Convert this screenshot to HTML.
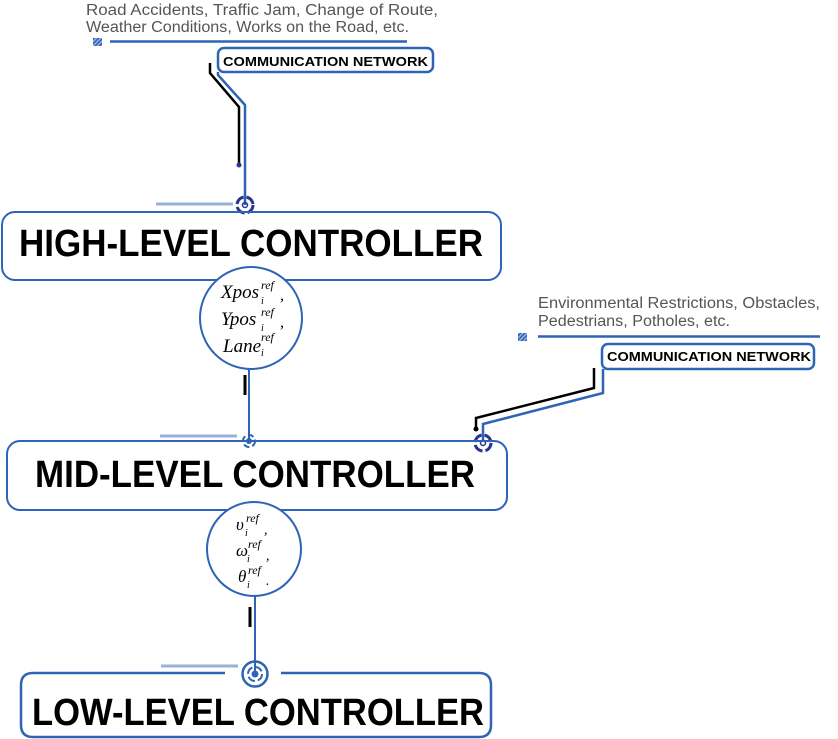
<!DOCTYPE html>
<html><head><meta charset="utf-8"><style>
html,body{margin:0;padding:0;background:#fff;}
svg{display:block;}
.t{font-family:"Liberation Sans",sans-serif;}
.m{font-family:"Liberation Serif",serif;font-style:italic;}
</style></head><body>
<svg width="838" height="739" viewBox="0 0 838 739" xmlns="http://www.w3.org/2000/svg">
<defs>
<pattern id="h" width="3" height="3" patternUnits="userSpaceOnUse" patternTransform="rotate(45)">
<rect width="3" height="3" fill="#9ab4e0"/><rect width="1.5" height="3" fill="#2a5cb8"/></pattern>
</defs>
<text class="t" x="86" y="15" font-size="15.5" fill="#555" textLength="352" lengthAdjust="spacingAndGlyphs">Road Accidents, Traffic Jam, Change of Route,</text>
<text class="t" x="86" y="32" font-size="15.5" fill="#555" textLength="323" lengthAdjust="spacingAndGlyphs">Weather Conditions, Works on the Road, etc.</text>
<rect x="93" y="38" width="9" height="8" fill="url(#h)"/>
<line x1="110" y1="41.5" x2="407" y2="41.5" stroke="#2d64b5" stroke-width="2.5"/>
<rect x="218" y="48" width="215" height="24" rx="6" fill="#fff" stroke="#2d64b5" stroke-width="2.5"/>
<text class="t" x="223" y="66" font-size="13" font-weight="bold" fill="#000" textLength="205" lengthAdjust="spacingAndGlyphs">COMMUNICATION NETWORK</text>
<polyline points="218,72 218,75 245,105 245,205" fill="none" stroke="#2d64b5" stroke-width="2.5"/>
<polyline points="210,63 210,73 239,107 239,164" fill="none" stroke="#000" stroke-width="2.5"/>
<circle cx="239" cy="165" r="2.5" fill="#2a3590"/>
<line x1="156" y1="204" x2="233" y2="204" stroke="#9ab0d8" stroke-width="3"/>
<circle cx="245" cy="205" r="8" fill="none" stroke="#2a3590" stroke-width="3" stroke-dasharray="10 3"/>
<circle cx="245" cy="205" r="2.5" fill="none" stroke="#2a3590" stroke-width="1.5"/>
<rect x="2" y="212" width="499" height="68" rx="13" fill="none" stroke="#2d64b5" stroke-width="2"/>
<text class="t" x="19" y="256" font-size="38" font-weight="bold" fill="#000" textLength="464" lengthAdjust="spacingAndGlyphs">HIGH-LEVEL CONTROLLER</text>
<circle cx="251" cy="318" r="51" fill="#fff" stroke="#2d64b5" stroke-width="2"/>
<text class="m" x="221" y="298" font-size="19">Xpos</text><text class="m" x="261" y="289" font-size="12">ref</text><text class="m" x="261" y="304" font-size="10">i</text><text class="m" x="280" y="300" font-size="16">,</text>
<text class="m" x="221" y="325" font-size="19">Ypos</text><text class="m" x="261" y="316" font-size="12">ref</text><text class="m" x="261" y="331" font-size="10">i</text><text class="m" x="280" y="327" font-size="16">,</text>
<text class="m" x="223" y="352" font-size="19">Lane</text><text class="m" x="261" y="341" font-size="12">ref</text><text class="m" x="261" y="356" font-size="10">i</text>
<line x1="249" y1="369" x2="249" y2="441" stroke="#2d64b5" stroke-width="2"/>
<line x1="245" y1="375" x2="245" y2="395" stroke="#000" stroke-width="3"/>
<line x1="160" y1="436" x2="237" y2="436" stroke="#9ab0d8" stroke-width="3"/>
<circle cx="249" cy="441" r="6" fill="none" stroke="#2d64b5" stroke-width="2" stroke-dasharray="6 3"/>
<circle cx="249" cy="441" r="3" fill="#2d64b5"/>
<text class="t" x="538" y="308" font-size="15.5" fill="#555" textLength="282" lengthAdjust="spacingAndGlyphs">Environmental Restrictions, Obstacles,</text>
<text class="t" x="538" y="326" font-size="15.5" fill="#555" textLength="192" lengthAdjust="spacingAndGlyphs">Pedestrians, Potholes, etc.</text>
<rect x="518" y="333" width="9" height="8" fill="url(#h)"/>
<line x1="538" y1="336.5" x2="820" y2="336.5" stroke="#2d64b5" stroke-width="2.5"/>
<rect x="602" y="344" width="212" height="25" rx="6" fill="#fff" stroke="#2d64b5" stroke-width="2.5"/>
<text class="t" x="607" y="361" font-size="13" font-weight="bold" fill="#000" textLength="204" lengthAdjust="spacingAndGlyphs">COMMUNICATION NETWORK</text>
<polyline points="603,369 603,393 483,424 483,441" fill="none" stroke="#2d64b5" stroke-width="2.5"/>
<polyline points="594,368 594,388 476,418 476,428" fill="none" stroke="#000" stroke-width="2.5"/>
<circle cx="476" cy="429" r="2.5" fill="#000"/>
<circle cx="483" cy="443" r="8" fill="none" stroke="#2a3590" stroke-width="3" stroke-dasharray="10 3"/>
<circle cx="483" cy="443" r="2.5" fill="none" stroke="#2a3590" stroke-width="1.5"/>
<rect x="7" y="441" width="500" height="69" rx="13" fill="none" stroke="#2d64b5" stroke-width="2"/>
<text class="t" x="35" y="487" font-size="38" font-weight="bold" fill="#000" textLength="440" lengthAdjust="spacingAndGlyphs">MID-LEVEL CONTROLLER</text>
<circle cx="254" cy="549" r="47" fill="#fff" stroke="#2d64b5" stroke-width="2"/>
<text class="m" x="236" y="530" font-size="17">υ</text><text class="m" x="246" y="522" font-size="12">ref</text><text class="m" x="245" y="536" font-size="10">i</text><text class="m" x="264" y="534" font-size="14">,</text>
<text class="m" x="236" y="556" font-size="17">ω</text><text class="m" x="248" y="548" font-size="12">ref</text><text class="m" x="247" y="562" font-size="10">i</text><text class="m" x="266" y="560" font-size="14">,</text>
<text class="m" x="238" y="582" font-size="17">θ</text><text class="m" x="248" y="574" font-size="12">ref</text><text class="m" x="247" y="588" font-size="10">i</text><text class="m" x="266" y="585" font-size="14">.</text>
<line x1="255" y1="596" x2="255" y2="673" stroke="#2d64b5" stroke-width="2"/>
<line x1="250" y1="607" x2="250" y2="627" stroke="#000" stroke-width="3"/>
<line x1="161" y1="666" x2="238" y2="666" stroke="#9ab0d8" stroke-width="3"/>
<path d="M225,673 L33,673 Q21,673 21,685 L21,725 Q21,737 33,737 L479,737 Q491,737 491,725 L491,685 Q491,673 479,673 L281,673" fill="none" stroke="#2d64b5" stroke-width="2.5"/>
<circle cx="255" cy="674" r="12.5" fill="none" stroke="#2d64b5" stroke-width="2.5"/>
<circle cx="255" cy="674" r="7" fill="none" stroke="#2d64b5" stroke-width="2" stroke-dasharray="8 3"/>
<circle cx="255" cy="674" r="3.5" fill="#2d64b5"/>
<text class="t" x="32" y="725" font-size="38" font-weight="bold" fill="#000" textLength="452" lengthAdjust="spacingAndGlyphs">LOW-LEVEL CONTROLLER</text>
</svg>
</body></html>
